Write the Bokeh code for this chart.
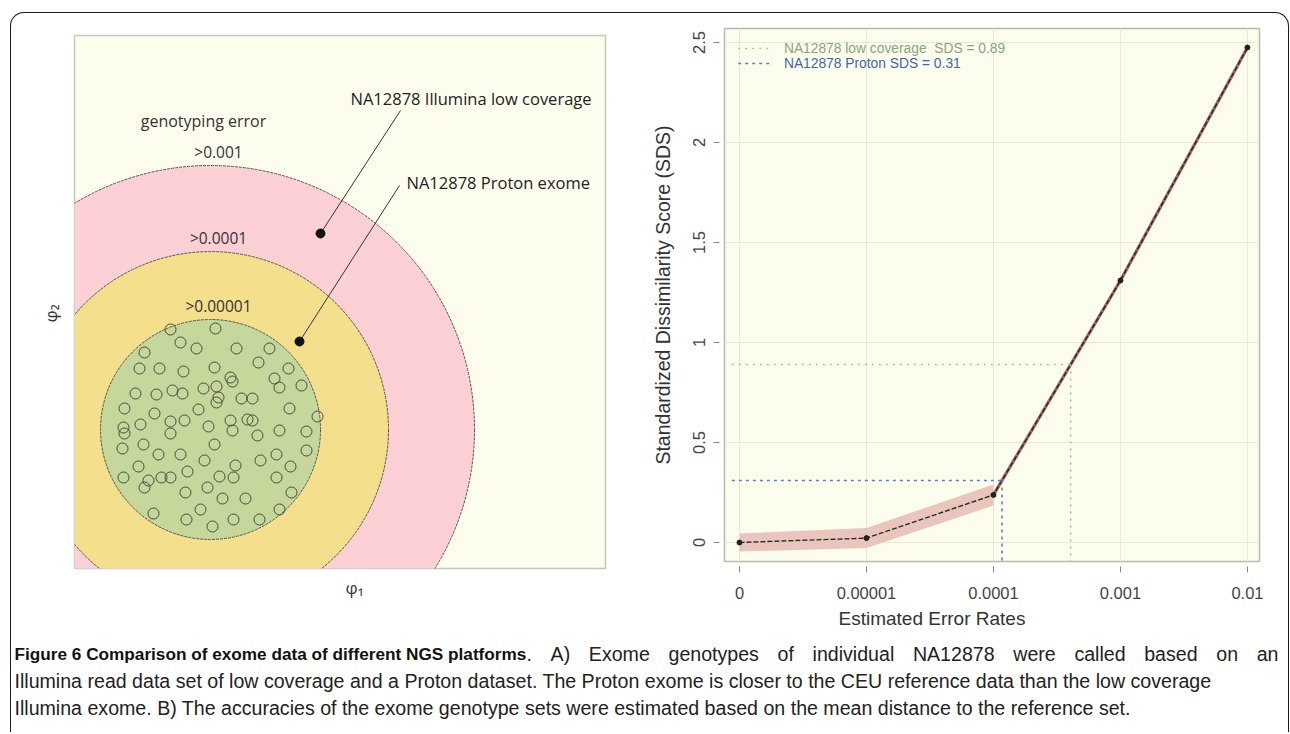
import numpy as np
from bokeh.plotting import figure
from bokeh.models import Range1d, FixedTicker, Title
from bokeh.layouts import row, column
from bokeh.core.properties import value
from bokeh.embed import file_html
from bokeh.resources import INLINE

# ---------------- Panel A data (phi space, arbitrary units) ----------------
ring_labels = [">0.001", ">0.0001", ">0.00001"]
ring_radius = [264, 178, 110]
ring_colors = ["#FCD0D4", "#F4DF8C", "#C5D79A"]
ref_phi1 = [-40, 5, -30, -14, 26, 59, -66, 48, -71, -51, -27, 4, 20, 22, 78, 64, 69, 91, -75, -54,
            -38, -28, -7, 6, 8, 6, 31, 42, -86, -56, -12, 79, 107, -87, -86, -70, -40, -26, -2, 20,
            22, 37, 42, -40, 47, 69, 96, -88, -67, 4, -52, -30, -6, 50, 66, 96, -72, 25, 80, -87,
            -49, -40, -62, -66, -23, 9, 23, 66, -25, -3, 12, 35, 81, -10, 69, -57, -24, 2, 23, 49]
ref_phi2 = [100, 101, 87, 81, 81, 81, 77, 67, 61, 61, 58, 62, 52, 48, 61, 51, 42, 44, 36, 35,
            39, 36, 41, 43, 32, 27, 31, 31, 21, 16, 20, 21, 13, 2, -4, 5, 8, 9, 3, 9,
            -1, 10, 9, -4, -6, -1, -2, -19, -15, -15, -25, -25, -31, -31, -25, -21, -37, -36, -37, -48,
            -48, -48, -51, -58, -42, -47, -48, -48, -63, -58, -69, -69, -63, -80, -80, -84, -90, -97, -90, -90]
sample_names = ["NA12878 Illumina low coverage", "NA12878 Proton exome"]
sample_phi1 = [110, 89]
sample_phi2 = [196, 88]

# ---------------- Panel B data ----------------
error_rate_labels = ["0", "0.00001", "0.0001", "0.001", "0.01"]
sds = [0.0, 0.022, 0.238, 1.31, 2.475]
band_lower = [-0.045, -0.028, 0.185]
band_upper = [0.045, 0.072, 0.29]
ref_names = ["NA12878 low coverage\u00a0 SDS = 0.89", "NA12878 Proton SDS = 0.31"]
ref_sds = [0.89, 0.31]
y_tick_values = [0, 0.5, 1, 1.5, 2, 2.5]
y_tick_labels = ["0", "0.5", "1", "1.5", "2", "2.5"]

caption_bold = "Figure 6 Comparison of exome data of different NGS platforms"
caption_l1 = ". A) Exome genotypes of individual NA12878 were called based on an"
caption_l2 = ("Illumina read data set of low coverage and a Proton dataset. The Proton exome is "
              "closer to the CEU reference data than the low coverage")
caption_l3 = ("Illumina exome. B) The accuracies of the exome genotype sets were estimated based "
              "on the mean distance to the reference set.")

CREAM = "#FDFDEE"
FA = value("Open Sans")
FB = value("Liberation Sans")

# ---------------- Panel A ----------------
A = figure(width=629, height=619, x_range=Range1d(-136, 395), y_range=Range1d(-139, 394),
           title=None, x_axis_type=None, y_axis_type=None,
           min_border_left=63, min_border_right=35, min_border_top=22, min_border_bottom=64,
           output_backend="svg", toolbar_location=None, background_fill_color=CREAM,
           border_fill_color=None, outline_line_color="#c6c6bc", outline_line_width=1.5)
A.grid.visible = False
A.add_layout(Title(text="φ₁", align="left", offset=271, standoff=10, text_font="Open Sans",
                   text_font_style="normal", text_font_size="17px", text_color="#333333"), "below")
A.add_layout(Title(text="φ₂", align="left", offset=246, standoff=26, text_font="Open Sans",
                   text_font_style="normal", text_font_size="17px", text_color="#333333"), "left")

for r, c in zip(ring_radius, ring_colors):
    A.circle(x=0, y=0, radius=r, fill_color=c, line_color="#555555", line_width=1, line_dash="3 1")
A.text(x=[8] * 3, y=[r + 14 for r in ring_radius], text=ring_labels, text_align="center",
       text_baseline="middle", text_font=FA, text_font_size="15.5px", text_color="#333333")
A.text(x=[-7], y=[ring_radius[0] + 45], text=["genotyping error"], text_align="center",
       text_baseline="middle", text_font=FA, text_font_size="16px", text_color="#333333")

A.scatter(ref_phi1, ref_phi2, size=11, marker="circle", fill_color=None,
          line_color="#454a40", line_width=1)

# leader lines and labels of the two NA12878 samples
lead_dx = [80, 100]
lead_dy = [123, 156]
tips_x = [sx + dx for sx, dx in zip(sample_phi1, lead_dx)]
tips_y = [sy + dy for sy, dy in zip(sample_phi2, lead_dy)]
A.segment(x0=sample_phi1, y0=sample_phi2, x1=tips_x, y1=tips_y, line_color="#333333", line_width=1)
A.scatter(sample_phi1, sample_phi2, size=9, color="#111111")
A.text(x=[tips_x[0] - 50, tips_x[1] + 7], y=[tips_y[0] + 12, tips_y[1] + 3], text=sample_names,
       text_align="left", text_baseline="middle", text_font=FA, text_font_size="16.5px",
       text_color="#222222")

# ---------------- Panel B ----------------
B = figure(width=648, height=619, x_range=Range1d(-0.118, 4.095), y_range=Range1d(-0.095, 2.57),
           title=None,
           min_border_left=84, min_border_right=29, min_border_top=15, min_border_bottom=70,
           output_backend="svg", toolbar_location=None, background_fill_color=CREAM,
           border_fill_color=None, outline_line_color="#b9b9ae", outline_line_width=1.5)
B.xaxis.ticker = FixedTicker(ticks=list(range(len(error_rate_labels))))
B.xaxis.major_label_overrides = {i: s for i, s in enumerate(error_rate_labels)}
B.yaxis.ticker = FixedTicker(ticks=y_tick_values)
B.yaxis.major_label_overrides = {v: s for v, s in zip(y_tick_values, y_tick_labels)}
B.yaxis.major_label_orientation = "vertical"
for ax in (B.xaxis[0], B.yaxis[0]):
    ax.axis_line_color = None
    ax.major_tick_in = -5
    ax.major_tick_out = 11
    ax.major_tick_line_color = "#8a8a8a"
    ax.minor_tick_line_color = None
    ax.major_label_text_font = "Liberation Sans"
    ax.major_label_text_font_size = "16.5px"
    ax.major_label_text_color = "#444444"
    ax.axis_label_text_font = "Liberation Sans"
    ax.axis_label_text_font_style = "normal"
    ax.axis_label_text_font_size = "19.5px"
    ax.axis_label_text_color = "#333333"
B.xaxis.major_label_standoff = 14
B.yaxis.major_label_standoff = 9
B.yaxis.axis_label_standoff = 16
B.yaxis.axis_label = "Standardized Dissimilarity Score (SDS)"
B.add_layout(Title(text="Estimated Error Rates", align="left", offset=114, standoff=8,
                   text_font="Liberation Sans", text_font_style="normal", text_font_size="19px",
                   text_color="#333333"), "below")
B.grid.grid_line_color = "#e9e9d8"
B.grid.grid_line_width = 1

xpos = np.arange(len(sds), dtype=float)
sds_arr = np.array(sds)
n_band = len(band_lower)
B.varea(x=xpos[:n_band], y1=band_lower, y2=band_upper, fill_color="#E8C2B8", fill_alpha=0.95)
B.line(xpos[n_band - 1:], sds_arr[n_band - 1:], line_width=3.2, line_color="#A5665F")
B.line(xpos, sds_arr, line_width=1.4, line_color="#2a2a2a", line_dash="5 2")
B.scatter(xpos, sds_arr, size=5, color="#222222")

# reference lines of the two NA12878 exomes
ref_colors = ["#A6C29A", "#5B7FC2"]
text_colors = ["#86A67C", "#3D66AC"]
ref_dash = ["2 5", "3 4"]
cross = np.interp(ref_sds, sds_arr, xpos)
x_left = B.x_range.start + 0.058
for yv, xc, col, dash in zip(ref_sds, cross, ref_colors, ref_dash):
    B.segment(x0=[x_left], y0=[yv], x1=[xc], y1=[yv], line_color=col, line_width=1.6, line_dash=dash)
    B.segment(x0=[xc], y0=[yv], x1=[xc], y1=[B.y_range.start], line_color=col, line_width=1.6,
              line_dash=dash)

# legend (top-left, inside the frame)
ytop = B.y_range.end
for i, (name, col, tcol, dash) in enumerate(zip(ref_names, ref_colors, text_colors, ref_dash)):
    yy = ytop - 0.1 - 0.075 * i
    B.segment(x0=[-0.01], y0=[yy], x1=[0.24], y1=[yy], line_color=col, line_width=1.6, line_dash=dash)
    B.text(x=[0.35], y=[yy], text=[name], text_baseline="middle", text_align="left",
           text_font=FB, text_font_size="13.8px", text_color=tcol)

# ---------------- Caption ----------------
# approximate Arial/Liberation Sans advance widths (1/1000 em) used to justify the first line
ARIAL_W = {" ": 278, ".": 278, ")": 333, "(": 333, "A": 667, "E": 667, "N": 722, "a": 556, "b": 556,
           "c": 500, "d": 556, "e": 556, "f": 278, "g": 556, "h": 556, "i": 222, "l": 222,
           "m": 833, "n": 556, "o": 556, "p": 556, "r": 333, "s": 500, "t": 278, "u": 556,
           "v": 500, "w": 722, "x": 500, "y": 500}


def text_w(s, size):
    return sum(ARIAL_W.get(ch, 556) for ch in s) / 1000.0 * size


REG = 19.6
BOLD = 17.2
cap_left, cap_right = 3, 1267
bold_end = cap_left + 512
words = caption_l1.split(" ")
first = words[0]
rest = words[1:]
avail = cap_right - (bold_end + text_w(first, REG)) - sum(text_w(w, REG) for w in rest)
gap = avail / len(rest)
wx = [bold_end]
cur = bold_end + text_w(first, REG)
for w in rest:
    cur += gap
    wx.append(cur)
    cur += text_w(w, REG)

C = figure(width=1277, height=100, x_range=Range1d(0, 1277), y_range=Range1d(100, 0),
           x_axis_type=None, y_axis_type=None, min_border=0, output_backend="svg", title=None,
           toolbar_location=None, background_fill_color=None, border_fill_color=None,
           outline_line_color=None)
C.grid.visible = False
C.text(x=[cap_left], y=[21], text=[caption_bold], text_baseline="middle", text_align="left",
       text_font=FB, text_font_style="bold", text_font_size=f"{BOLD}px", text_color="#111111")
C.text(x=wx, y=[21] * len(wx), text=[first] + rest, text_baseline="middle", text_align="left",
       text_font=FB, text_font_size=f"{REG}px", text_color="#222222")
C.text(x=[cap_left, cap_left], y=[48, 75], text=[caption_l2, caption_l3], text_baseline="middle",
       text_align="left", text_font=FB, text_font_size=f"{REG}px", text_color="#222222")

top_row = row(column(A, spacing=0), column(B, spacing=0), spacing=0)
page = column(top_row, C, spacing=0, margin=(12, 0, 0, 10),
              styles={"border-top": "1px solid #1a1a1a", "border-left": "1px solid #1a1a1a",
                      "border-right": "1px solid #1a1a1a", "border-top-left-radius": "14px",
                      "border-top-right-radius": "14px"})

open("out.html", "w").write(file_html(page, INLINE))
